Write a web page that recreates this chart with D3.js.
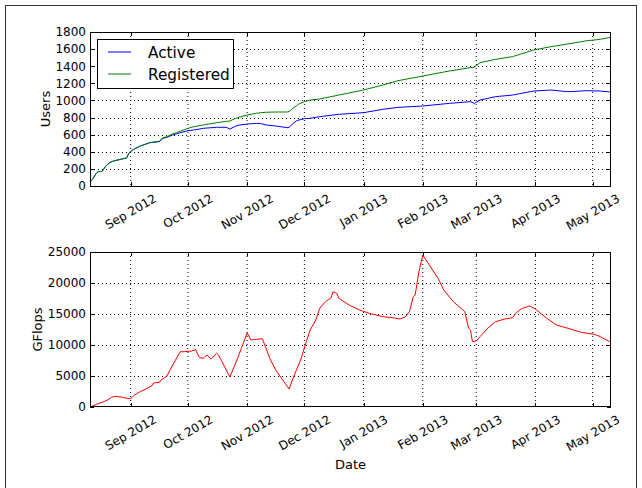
<!DOCTYPE html>
<html>
<head>
<meta charset="utf-8">
<script src="https://cdn.jsdelivr.net/npm/d3@7"></script>
<style>
body{margin:0;background:#fff;}
svg{font-family:"DejaVu Sans",sans-serif;}
</style>
</head>
<body>
<script>
// users per day
const userDates=["2012-08-11","2012-08-12","2012-08-14","2012-08-15","2012-08-17","2012-08-18","2012-08-19","2012-08-21","2012-08-23","2012-08-28","2012-08-30","2012-08-31","2012-09-02","2012-09-06","2012-09-11","2012-09-16","2012-09-18","2012-09-20","2012-09-23","2012-09-25","2012-10-01","2012-10-04","2012-10-09","2012-10-16","2012-10-21","2012-10-23","2012-10-26","2012-10-28","2012-11-01","2012-11-06","2012-11-08","2012-11-11","2012-11-16","2012-11-22","2012-11-23","2012-11-25","2012-11-27","2012-11-28","2012-12-01","2012-12-04","2012-12-09","2012-12-19","2013-01-01","2013-01-11","2013-01-19","2013-02-01","2013-02-15","2013-02-26","2013-02-28","2013-03-03","2013-03-11","2013-03-20","2013-03-31","2013-04-09","2013-04-18","2013-04-28","2013-05-05","2013-05-10"];
const active=[50,78,148,168,170,200,235,273,292,318,330,382,421,467,506,518,557,570,596,610,647,654,674,686,686,666,700,713,724,732,730,713,701,682,686,730,764,770,787,791,810,838,857,896,919,935,966,986,966,1005,1044,1063,1110,1122,1102,1114,1110,1099];
const registered=[50,78,148,168,170,200,235,273,292,318,330,382,421,467,506,525,565,576,610,623,674,693,713,740,755,760,791,805,830,850,857,862,865,865,870,908,940,958,985,1005,1017,1063,1122,1180,1231,1285,1345,1383,1390,1441,1480,1512,1589,1628,1660,1698,1714,1737];

const flopDates=["2012-08-11","2012-08-14","2012-08-16","2012-08-18","2012-08-20","2012-08-22","2012-08-24","2012-08-27","2012-08-30","2012-09-01","2012-09-03","2012-09-06","2012-09-09","2012-09-12","2012-09-13","2012-09-16","2012-09-17","2012-09-19","2012-09-20","2012-09-23","2012-09-27","2012-09-29","2012-10-03","2012-10-05","2012-10-07","2012-10-09","2012-10-11","2012-10-13","2012-10-16","2012-10-17","2012-10-23","2012-10-27","2012-11-01","2012-11-03","2012-11-06","2012-11-09","2012-11-13","2012-11-16","2012-11-20","2012-11-23","2012-11-25","2012-11-29","2012-12-02","2012-12-04","2012-12-07","2012-12-09","2012-12-12","2012-12-15","2012-12-16","2012-12-18","2012-12-19","2012-12-25","2012-12-30","2013-01-04","2013-01-11","2013-01-16","2013-01-20","2013-01-23","2013-01-25","2013-01-27","2013-01-28","2013-01-30","2013-02-01","2013-02-05","2013-02-09","2013-02-12","2013-02-17","2013-02-23","2013-02-25","2013-02-26","2013-02-27","2013-03-01","2013-03-03","2013-03-07","2013-03-11","2013-03-16","2013-03-20","2013-03-22","2013-03-25","2013-03-29","2013-04-01","2013-04-07","2013-04-12","2013-04-18","2013-04-25","2013-05-02","2013-05-05","2013-05-08","2013-05-10"];
const gflops=[0,430,645,860,1130,1560,1720,1610,1400,1340,1935,2470,2900,3390,3870,3980,4350,4780,5000,6770,8920,8920,9030,9250,7960,7850,8390,7740,8660,8390,4840,7850,11930,10800,10910,11020,7740,5970,4190,2900,4620,7580,10540,12420,14030,15910,16990,17630,18600,18330,17530,16340,15640,15110,14570,14410,14190,14570,15380,17790,18060,21830,24510,22630,20750,18870,16990,15380,12690,12420,10540,10640,11340,12690,13760,14190,14410,15210,15910,16290,15800,14300,13220,12690,12040,11720,11340,10810,10540];

const userTicks=[0,200,400,600,800,1000,1200,1400,1600,1800];
const flopTicks=[0,5000,10000,15000,20000,25000];
const monthTicks=["2012-09-01","2012-10-01","2012-11-01","2012-12-01","2013-01-01","2013-02-01","2013-03-01","2013-04-01","2013-05-01"];
const dateRange=["2012-08-10T17:00","2013-05-10T14:00"];

const W=642,H=488;
const parse=d3.timeParse("%Y-%m-%d");
const parseT=d3.timeParse("%Y-%m-%dT%H:%M");
const fmt=d3.timeFormat("%b %Y");

const svg=d3.select("body").append("svg").attr("width",W).attr("height",H);
svg.append("rect").attr("x",5.5).attr("y",5.5).attr("width",631).attr("height",600)
  .attr("fill","none").attr("stroke","#333").attr("stroke-width",1);

const x=d3.scaleTime().domain(dateRange.map(parseT)).range([90,611]);

function panel(top,bottom,yMax,yTicks,yLabel,labelX){
  const y=d3.scaleLinear().domain([0,yMax]).range([bottom,top]);
  const g=svg.append("g");
  // grid
  g.append("g").selectAll("line").data(monthTicks).join("line")
    .attr("x1",d=>x(parse(d))).attr("x2",d=>x(parse(d)))
    .attr("y1",top).attr("y2",bottom)
    .attr("stroke","#000").attr("stroke-width",1).attr("stroke-dasharray","1,3");
  g.append("g").selectAll("line").data(yTicks.slice(1,-1)).join("line")
    .attr("x1",90).attr("x2",611)
    .attr("y1",d=>Math.round(y(d))+0.5).attr("y2",d=>Math.round(y(d))+0.5)
    .attr("stroke","#000").attr("stroke-width",1).attr("stroke-dasharray","1,3");
  // inward ticks on all sides
  const ticks=g.append("g").attr("stroke","#000");
  yTicks.forEach(v=>{
    const yy=Math.round(y(v))+0.5;
    ticks.append("line").attr("x1",90).attr("x2",94).attr("y1",yy).attr("y2",yy);
    ticks.append("line").attr("x1",607).attr("x2",611).attr("y1",yy).attr("y2",yy);
  });
  monthTicks.forEach(d=>{
    const xx=Math.round(x(parse(d)))+0.5;
    ticks.append("line").attr("x1",xx).attr("x2",xx).attr("y1",bottom).attr("y2",bottom-4);
    ticks.append("line").attr("x1",xx).attr("x2",xx).attr("y1",top).attr("y2",top+4);
  });
  // y labels
  g.append("g").selectAll("text").data(yTicks).join("text")
    .attr("x",86).attr("y",d=>y(d)).attr("dy","0.36em")
    .attr("text-anchor","end").style("font-size","12px").text(d=>d);
  // x labels rotated 30deg, bbox centred on tick
  g.append("g").selectAll("text").data(monthTicks).join("text")
    .style("font-size","12px").attr("text-anchor","middle").attr("dy","0.36em")
    .text(d=>fmt(parse(d)))
    .attr("transform",function(d){
      const w=this.getComputedTextLength();
      const hh=w*0.5+12*0.866;
      return `translate(${x(parse(d))},${bottom+6+hh/2}) rotate(-30)`;
    });
  g.append("text").attr("transform",`translate(${labelX},${(top+bottom)/2}) rotate(-90)`)
    .attr("text-anchor","middle").attr("dy","0.36em").style("font-size","13px").text(yLabel);
  return {y,g};
}

const p1=panel(32,186,1800,userTicks,"Users",45);
const line1=d3.line().x((d,i)=>x(parse(userDates[i]))).y(d=>p1.y(d));
p1.g.append("path").datum(active).attr("d",line1).attr("fill","none").attr("stroke","#0000ff").attr("stroke-width",1);
p1.g.append("path").datum(registered).attr("d",line1).attr("fill","none").attr("stroke","#008000").attr("stroke-width",1);
p1.g.append("rect").attr("x",90.5).attr("y",32.5).attr("width",520).attr("height",154)
  .attr("fill","none").attr("stroke","#000");

// legend
const lg=svg.append("g");
lg.append("rect").attr("x",97.5).attr("y",39.5).attr("width",136).attr("height",49)
  .attr("fill","#fff").attr("stroke","#000");
[["Active","#0000ff",52],["Registered","#008000",74]].forEach(([t,c,yy])=>{
  lg.append("line").attr("x1",108).attr("x2",131).attr("y1",yy).attr("y2",yy).attr("stroke",c);
  lg.append("text").attr("x",148).attr("y",yy).attr("dy","0.36em").style("font-size","15.3px").text(t);
});

const p2=panel(252,407,25000,flopTicks,"GFlops",37);
const line2=d3.line().x((d,i)=>x(parse(flopDates[i]))).y(d=>p2.y(d));
p2.g.append("path").datum(gflops).attr("d",line2).attr("fill","none").attr("stroke","#ff0000").attr("stroke-width",1);
p2.g.append("rect").attr("x",90.5).attr("y",252.5).attr("width",520).attr("height",154)
  .attr("fill","none").attr("stroke","#000");

svg.append("text").attr("x",350.5).attr("y",464).attr("dy","0.36em")
  .attr("text-anchor","middle").style("font-size","13px").text("Date");
</script>
</body>
</html>
